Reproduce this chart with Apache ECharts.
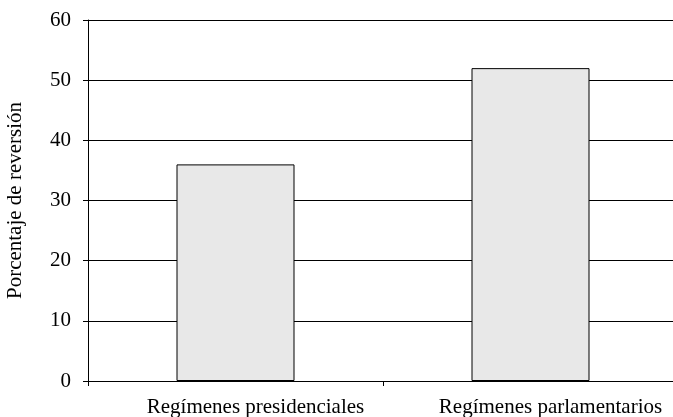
<!DOCTYPE html>
<html><head><meta charset="utf-8">
<script src="https://cdn.jsdelivr.net/npm/echarts@6/dist/echarts.min.js"></script>
<style>html,body{margin:0;padding:0;background:#fff}#c{width:673px;height:417px}</style>
</head><body><div id="c"></div>
<script>
const categories = ["Regímenes presidenciales", "Regímenes parlamentarios"];
const values = [36, 52];
const yTicks = [0, 10, 20, 30, 40, 50, 60];
const yName = "Porcentaje de reversión";

const font = "'Liberation Serif', 'DejaVu Serif', serif";
const chart = echarts.init(document.getElementById('c'), null, {renderer: 'canvas'});
chart.setOption({
  animation: false,
  backgroundColor: '#fff',
  grid: {left: 88, right: -5, top: 20, bottom: 36, containLabel: false, outerBoundsMode: 'none'},
  xAxis: {
    type: 'category', data: categories,
    axisLine: {lineStyle: {color: '#000', width: 1}},
    axisTick: {show: true, length: 5, lineStyle: {color: '#000'}},
    axisLabel: {color: '#000', fontFamily: font, fontSize: 21, margin: 16, padding: [0, 0, 0, 40]}
  },
  yAxis: {
    type: 'value', min: yTicks[0], max: yTicks[yTicks.length-1], interval: 10,
    name: yName, nameLocation: 'middle', nameGap: 62,
    nameTextStyle: {color: '#000', fontFamily: font, fontSize: 21},
    axisLine: {show: true, lineStyle: {color: '#000', width: 1}},
    axisTick: {show: true, length: 5, lineStyle: {color: '#000'}},
    axisLabel: {color: '#000', fontFamily: font, fontSize: 21, margin: 17},
    splitLine: {show: true, lineStyle: {color: '#000', width: 1}}
  },
  series: [{
    type: 'bar', data: values, barWidth: '40%',
    itemStyle: {color: '#e8e8e8', borderColor: '#000', borderWidth: 1}
  }]
});
</script></body></html>
